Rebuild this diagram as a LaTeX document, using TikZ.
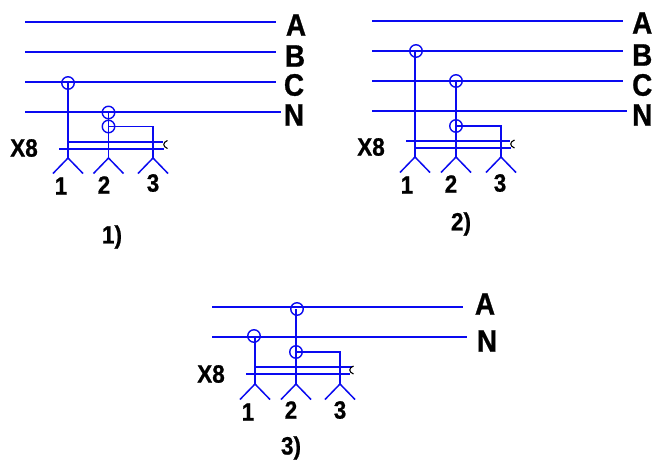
\documentclass[tikz,border=0pt]{standalone}
\usepackage{fontspec}
\setmainfont{Liberation Sans}
\newfontfamily\labfont[BoldFont=*,FakeBold=0.9]{Liberation Sans Bold}
\newcommand{\biglab}[1]{\scalebox{0.9}[1]{\fontsize{31}{31}\selectfont\labfont #1}}
\newcommand{\smalllab}[1]{\scalebox{0.9}[1]{\fontsize{25}{25}\selectfont\labfont #1}}
\definecolor{wireblue}{RGB}{10,10,240}
\tikzset{
  wire/.style={draw=wireblue,line width=1.5pt},
  tapc/.style={circle,draw=wireblue,line width=1.4pt,minimum size=12.5pt,inner sep=0pt},
  biglabel/.style={inner sep=0pt,text=black},
  smalllabel/.style={inner sep=0pt,text=black},
  clip mark/.style={draw=black,line width=1.1pt}
}
\newcommand{\forkat}[1]{%
  \draw[wire] ($(#1)+(-15,15.5)$) -- (#1) -- ($(#1)+(15,15.5)$);}
\usetikzlibrary{calc}
\begin{document}
\begin{tikzpicture}[x=1pt,y=-1pt]
\useasboundingbox (0,0) rectangle (653,461);
% ---------- 1)
\foreach \n/\y/\e in {A/22/276,B/52/276,C/82/276,N/112/281}{
  \coordinate (pa\n l) at (25,\y); \coordinate (pa\n r) at (\e,\y);
  \draw[wire] (pa\n l) -- (pa\n r);}
\node[tapc] (a1) at (68,83) {};
\node[tapc] (a2) at (108.5,112.5) {};
\node[tapc] (a3) at (108.5,126.5) {};
\coordinate (af1) at (68,158); \coordinate (af2) at (108.5,158); \coordinate (af3) at (153,158);
\coordinate (ac) at (153,126.5);
\draw[wire] (a1.center) -- (af1);
\draw[wire] (a2.center) -- (af2);
\draw[wire] (a3.center) -- (ac) -- (af3);
\coordinate (ab1) at (68,142); \coordinate (ab2) at (163,142);
\coordinate (ab3) at (59,149); \coordinate (ab4) at (164,149);
\draw[wire] (ab1) -- (ab2);
\draw[wire] (ab3) -- (ab4);
\forkat{af1}\forkat{af2}\forkat{af3}
\draw[clip mark] (167.5,140.5) .. controls (162.5,142.5) and (162.5,146.5) .. (167.5,148.5);
\node[biglabel] (la) at (296,25) {\biglab{A}};
\node[biglabel] (lb) at (295,56) {\biglab{B}};
\node[biglabel] (lc) at (294,85) {\biglab{C}};
\node[biglabel] (ln) at (294,115) {\biglab{N}};
\node[smalllabel] (lx) at (24,148) {\smalllab{X8}};
\node[smalllabel] (l1) at (61,186) {\smalllab{1}};
\node[smalllabel] (l2) at (104,185) {\smalllab{2}};
\node[smalllabel] (l3) at (153,183) {\smalllab{3}};
\node[smalllabel] (lt) at (112,237) {\smalllab{1)}};
% ---------- 2)
\foreach \n/\y/\e in {A/21/623,B/51/623,C/81/623,N/111/627}{
  \coordinate (pb\n l) at (372,\y); \coordinate (pb\n r) at (\e,\y);
  \draw[wire] (pb\n l) -- (pb\n r);}
\node[tapc] (b1) at (416,51) {};
\node[tapc] (b2) at (456,81) {};
\node[tapc] (b3) at (456,126) {};
\coordinate (bf1) at (415,157); \coordinate (bf2) at (456,157); \coordinate (bf3) at (501,157);
\coordinate (bc) at (501,126);
\coordinate (bt1) at (415,51);
\draw[wire] (bt1) -- (bf1);
\draw[wire] (b2.center) -- (bf2);
\draw[wire] (b3.center) -- (bc) -- (bf3);
\coordinate (bb1) at (406,141); \coordinate (bb2) at (510,141);
\coordinate (bb3) at (415,148); \coordinate (bb4) at (511,148);
\draw[wire] (bb1) -- (bb2);
\draw[wire] (bb3) -- (bb4);
\forkat{bf1}\forkat{bf2}\forkat{bf3}
\draw[clip mark] (514.5,140) .. controls (509.5,142) and (509.5,146) .. (514.5,148);
\node[biglabel,anchor=east] (ma) at (652.5,23) {\biglab{A}};
\node[biglabel,anchor=east] (mb) at (652.5,55) {\biglab{B}};
\node[biglabel,anchor=east] (mc) at (652.5,85) {\biglab{C}};
\node[biglabel,anchor=east] (mn) at (652.5,115) {\biglab{N}};
\node[smalllabel] (mx) at (371,147) {\smalllab{X8}};
\node[smalllabel] (m1) at (407,185) {\smalllab{1}};
\node[smalllabel] (m2) at (451,184) {\smalllab{2}};
\node[smalllabel] (m3) at (500,183) {\smalllab{3}};
\node[smalllabel] (mt) at (461,224) {\smalllab{2)}};
% ---------- 3)
\foreach \n/\y/\e in {A/307/463,N/337/467}{
  \coordinate (pc\n l) at (212,\y); \coordinate (pc\n r) at (\e,\y);
  \draw[wire] (pc\n l) -- (pc\n r);}
\node[tapc] (c1) at (254,336) {};
\node[tapc] (c2) at (297,309) {};
\node[tapc] (c3) at (296,352) {};
\coordinate (cf1) at (255,384); \coordinate (cf2) at (296,384); \coordinate (cf3) at (340,384);
\coordinate (cc) at (340,352);
\coordinate (ct1) at (255,337); \coordinate (ct2) at (296,309);
\draw[wire] (ct1) -- (cf1);
\draw[wire] (ct2) -- (cf2);
\draw[wire] (c3.center) -- (cc) -- (cf3);
\coordinate (cb1) at (255,367); \coordinate (cb2) at (352,367);
\coordinate (cb3) at (246,374); \coordinate (cb4) at (350,374);
\draw[wire] (cb1) -- (cb2);
\draw[wire] (cb3) -- (cb4);
\forkat{cf1}\forkat{cf2}\forkat{cf3}
\draw[clip mark] (353.5,366) .. controls (348.5,368) and (348.5,372) .. (353.5,374);
\node[biglabel] (na) at (485,304) {\biglab{A}};
\node[biglabel] (nn) at (487,341) {\biglab{N}};
\node[smalllabel] (nx) at (211,374) {\smalllab{X8}};
\node[smalllabel] (n1) at (248,412) {\smalllab{1}};
\node[smalllabel] (n2) at (291,410) {\smalllab{2}};
\node[smalllabel] (n3) at (340,410) {\smalllab{3}};
\node[smalllabel] (nt) at (291,448) {\smalllab{3)}};
\end{tikzpicture}
\end{document}
